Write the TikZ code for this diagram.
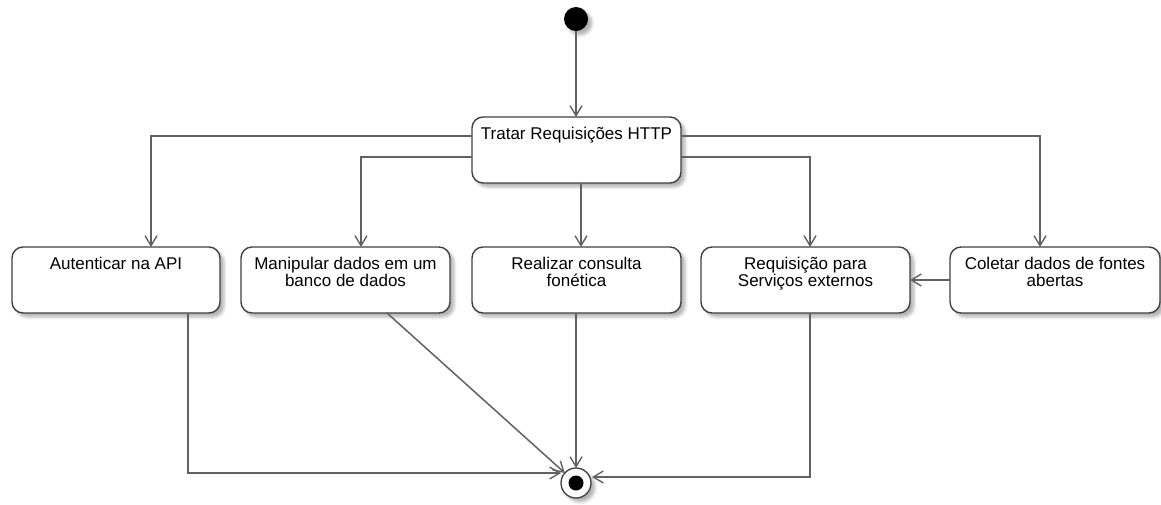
\documentclass[tikz,border=0pt]{standalone}
\usepackage{fontspec}
\setmainfont{Liberation Sans}
\usetikzlibrary{arrows.meta,shadows.blur,calc}
\begin{document}
\begin{tikzpicture}[x=1pt,y=-1pt,
  every node/.style={inner sep=0pt,outer sep=0pt},
  softshadow/.style={blur shadow={shadow xshift=4pt,shadow yshift=-4pt,shadow blur radius=3pt,shadow opacity=30}},
  state/.style={rectangle,rounded corners=11pt,draw=black!75,line width=1.4pt,fill=white,
    minimum width=208pt,minimum height=66pt,softshadow},
  caption/.style={anchor=north,align=center,text=black,
    font=\fontsize{17}{17}\selectfont},
  arr/.style={draw=black!62,line width=1.5pt,-{Straight Barb[length=10pt,width=12pt,line width=1.4pt]}},
  startdot/.style={circle,fill=black,minimum size=24pt,softshadow},
  enddot/.style={circle,draw=black!75,line width=1.3pt,fill=white,minimum size=30pt,softshadow},
  enddotin/.style={circle,fill=black,minimum size=15pt}]

\useasboundingbox (0,0) rectangle (1161,504);

% initial and final states
\node[startdot] (start) at (576,19) {};
\node[enddot] (fin) at (576,483) {};
\node[enddotin] (finin) at (576,483) {};

% activity states
\node[state,minimum width=209pt] (tr) at (576.5,150) {};
\node[state] (auth) at (116,280) {};
\node[state,minimum width=209pt] (db) at (345.5,280) {};
\node[state,minimum width=209pt] (real) at (576.5,280) {};
\node[state,minimum width=209pt] (req) at (805.5,280) {};
\node[state,minimum width=210pt] (col) at (1055,280) {};

% captions
\node[caption] (trT) at ([yshift=-10pt]tr.north) {Tratar Requisições HTTP};
\node[caption] (authT) at ([yshift=-10pt]auth.north) {Autenticar na API};
\node[caption] (dbT) at ([yshift=-10pt]db.north) {Manipular dados em um\\banco de dados};
\node[caption] (realT) at ([yshift=-10pt]real.north) {Realizar consulta\\fonética};
\node[caption] (reqT) at ([yshift=-10pt]req.north) {Requisição para\\Serviços externos};
\node[caption] (colT) at ([yshift=-10pt]col.north) {Coletar dados de fontes\\abertas};

% entry points on the final state
\coordinate (finL) at (561,473);
\coordinate (finR) at (592,477);

% transitions
\draw[arr] (start.south) -- ([xshift=-0.5pt]tr.north);
\draw[arr] ([yshift=-19pt]tr.north west) -| ([xshift=35pt]auth.north);
\draw[arr] ([yshift=-40pt]tr.north west) -| ([xshift=15.5pt]db.north);
\draw[arr] ([xshift=4.5pt]tr.south) -- ([xshift=4.5pt]real.north);
\draw[arr] ([yshift=-40pt]tr.north east) -| ([xshift=4.5pt]req.north);
\draw[arr] ([yshift=-19pt]tr.north east) -| ([xshift=-15pt]col.north);
\draw[arr] (col.west) -- (req.east);

\draw[arr] ([xshift=72pt]auth.south) |- (finL);
\draw[arr] ([xshift=41.5pt]db.south) -- (fin);
\draw[arr] ([xshift=-0.5pt]real.south) -- (fin.north);
\draw[arr] ([xshift=4.5pt]req.south) |- (finR);
\end{tikzpicture}
\end{document}
